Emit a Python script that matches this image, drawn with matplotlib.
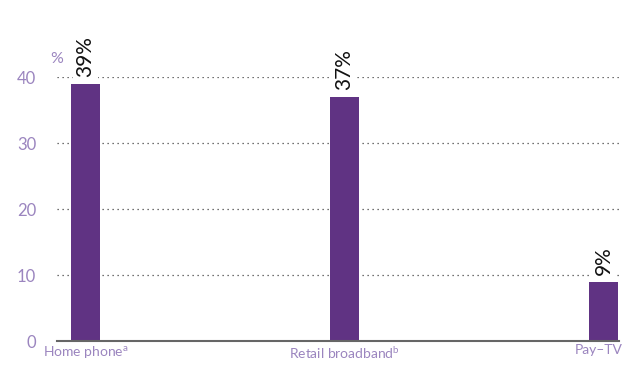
import matplotlib.pyplot as plt

categories = ["Home phone$^{\\mathrm{a}}$", "Retail broadband$^{\\mathrm{b}}$", "Pay\u2013TV"]
values = [39, 37, 9]
value_labels = ["39%", "37%", "9%"]
yticks = [0, 10, 20, 30, 40]

BAR = "#603383"
TICK = "#9b85bf"

plt.rcParams["font.family"] = ["Lato", "DejaVu Sans"]
plt.rcParams["mathtext.fontset"] = "custom"
plt.rcParams["mathtext.rm"] = "Lato"

fig = plt.figure(figsize=(6.23, 3.66), dpi=100)
W, H = 623, 366
ax = fig.add_axes([57 / W, 1 - 341 / H, (619 - 57) / W, (341 - 77) / H])

x = range(len(categories))
ax.bar(x, values, width=0.112, color=BAR, zorder=3)
ax.set_xlim(-0.11, 2.06)
ax.set_ylim(0, 40)

for y in yticks[1:]:
    ax.axhline(y, color="#444444", lw=0.9, ls=(0, (1, 3)), zorder=1)

for s in ["top", "right", "left"]:
    ax.spines[s].set_visible(False)
ax.spines["bottom"].set_color("#666666")
ax.spines["bottom"].set_linewidth(1.5)
ax.spines["bottom"].set_zorder(4)

ax.set_yticks(yticks)
ax.set_yticklabels([str(t) for t in yticks], color=TICK, fontsize=12)
ax.tick_params(axis="y", length=0, pad=15)
ax.set_xticks([])
ax.text(-0.085, 42.7, "%", color=TICK, fontsize=11.5, ha="right", va="center",
        transform=ax.transData, clip_on=False)

for i, cat in enumerate(categories):
    ha = "right" if i == len(categories) - 1 else "center"
    xp = 2.075 if ha == "right" else i
    ax.text(xp, -0.5, cat, color=TICK, fontsize=10, ha=ha, va="top", clip_on=False)

for i, (v, lab) in enumerate(zip(values, value_labels)):
    ax.text(i, v + 1.0, lab, rotation=90, ha="center", va="bottom", fontsize=15,
            color="#111111", zorder=5, clip_on=False,
            bbox=dict(facecolor="white", edgecolor="none", pad=1.5))

fig.savefig("out.png", dpi=100)
